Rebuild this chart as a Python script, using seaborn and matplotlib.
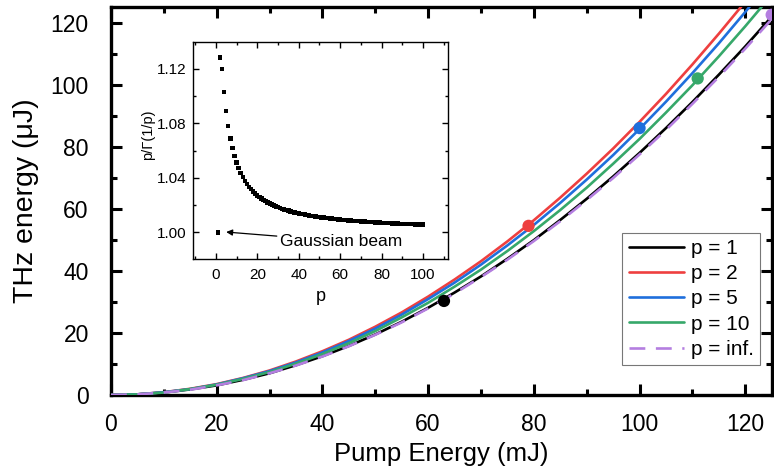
import numpy as np
import pandas as pd
import matplotlib
matplotlib.use("Agg")
import matplotlib.pyplot as plt
from matplotlib.ticker import MultipleLocator
import seaborn as sns

# ---- data ----
pump = [0, 5, 10, 15, 20, 25, 30, 35, 40, 45, 50, 55, 60, 65, 70, 75, 80, 85, 90, 95, 100, 105, 110, 115, 120, 125]
thz_p1 = [0, 0.2, 0.8, 1.8, 3.1, 4.9, 7.0, 9.6, 12.5, 15.8, 19.5, 23.6, 28.1, 33.0, 38.2, 43.9, 49.9, 56.4, 63.2, 70.4, 78.0, 86.0, 94.4, 103.2, 112.3, 121.9]
thz_p2 = [0, 0.2, 0.9, 2.0, 3.5, 5.5, 7.9, 10.8, 14.1, 17.8, 22.0, 26.6, 31.7, 37.2, 43.1, 49.5, 56.3, 63.6, 71.3, 79.4, 88.0, 97.0, 106.5, 116.4, 126.7, 137.5]
thz_p5 = [0, 0.2, 0.9, 1.9, 3.4, 5.4, 7.7, 10.5, 13.7, 17.4, 21.4, 25.9, 30.9, 36.2, 42.0, 48.2, 54.8, 61.9, 69.4, 77.3, 85.7, 94.5, 103.7, 113.3, 123.4, 133.9]
thz_p10 = [0, 0.2, 0.8, 1.9, 3.3, 5.2, 7.4, 10.1, 13.2, 16.7, 20.6, 25.0, 29.7, 34.9, 40.4, 46.4, 52.8, 59.6, 66.8, 74.5, 82.5, 91.0, 99.8, 109.1, 118.8, 128.9]
thz_pinf = [0, 0.2, 0.8, 1.7, 3.1, 4.8, 7.0, 9.5, 12.4, 15.7, 19.4, 23.4, 27.9, 32.7, 38.0, 43.6, 49.6, 56.0, 62.8, 69.9, 77.5, 85.4, 93.8, 102.5, 111.6, 121.1]
labels = ["p = 1", "p = 2", "p = 5", "p = 10", "p = inf."]
colors = ["#000000", "#EE3F3F", "#1F6FDC", "#36A86A", "#B47EE0"]
mark_x = [63, 79, 100, 111, 125]
mark_y = [30.3, 54.5, 86.0, 102.0, 122.5]

inset_p = list(range(1, 101))
inset_val = [1.0000, 1.1284, 1.1198, 1.1033, 1.0891, 1.0780, 1.0691, 1.0619, 1.0560, 1.0512,
             1.0471, 1.0435, 1.0405, 1.0379, 1.0356, 1.0335, 1.0317, 1.0300, 1.0286, 1.0272,
             1.0260, 1.0249, 1.0239, 1.0229, 1.0220, 1.0212, 1.0205, 1.0198, 1.0191, 1.0185,
             1.0179, 1.0174, 1.0169, 1.0164, 1.0160, 1.0155, 1.0151, 1.0147, 1.0144, 1.0140,
             1.0137, 1.0134, 1.0131, 1.0128, 1.0125, 1.0122, 1.0120, 1.0117, 1.0115, 1.0113,
             1.0111, 1.0109, 1.0107, 1.0105, 1.0103, 1.0101, 1.0099, 1.0098, 1.0096, 1.0094,
             1.0093, 1.0091, 1.0090, 1.0089, 1.0087, 1.0086, 1.0085, 1.0083, 1.0082, 1.0081,
             1.0080, 1.0079, 1.0078, 1.0077, 1.0076, 1.0075, 1.0074, 1.0073, 1.0072, 1.0071,
             1.0070, 1.0069, 1.0069, 1.0068, 1.0067, 1.0066, 1.0066, 1.0065, 1.0064, 1.0063,
             1.0063, 1.0062, 1.0061, 1.0061, 1.0060, 1.0059, 1.0059, 1.0058, 1.0058, 1.0057]

# ---- style ----
sns.set_style("ticks")
plt.rcParams["font.family"] = ["Liberation Sans", "DejaVu Sans"]
plt.rcParams["axes.edgecolor"] = "black"
plt.rcParams["xtick.color"] = "black"
plt.rcParams["ytick.color"] = "black"
plt.rcParams["text.color"] = "black"
plt.rcParams["axes.labelcolor"] = "black"

fig = plt.figure(figsize=(7.74, 4.70), dpi=100)
ax = fig.add_axes([0.1434, 0.1596, 0.8536, 0.8254])

series = [thz_p1, thz_p2, thz_p5, thz_p10, thz_pinf]
for i, (vals, lab, col) in enumerate(zip(series, labels, colors)):
    df = pd.DataFrame({"pump": pump, "thz": vals})
    sns.lineplot(data=df, x="pump", y="thz", ax=ax, color=col, lw=1.9,
                 label=lab, zorder=3 + i)
    if i == 4:
        ax.lines[-1].set_dashes((6, 4))

mdf = pd.DataFrame({"x": mark_x, "y": mark_y, "s": labels})
sns.scatterplot(data=mdf, x="x", y="y", hue="s", palette=colors, s=78,
                edgecolor="none", ax=ax, legend=False, zorder=10)

ax.set_xlim(0, 125)
ax.set_ylim(0, 125)
ax.xaxis.set_major_locator(MultipleLocator(20))
ax.xaxis.set_minor_locator(MultipleLocator(10))
ax.yaxis.set_major_locator(MultipleLocator(20))
ax.yaxis.set_minor_locator(MultipleLocator(10))
ax.tick_params(which="both", direction="in", top=True, right=True, width=2.2)
ax.tick_params(which="major", length=8, labelsize=16.5, pad=13)
ax.tick_params(axis="y", which="major", pad=16)
ax.tick_params(which="minor", length=4)
for s in ax.spines.values():
    s.set_linewidth(2.4)
ax.set_xlabel("Pump Energy (mJ)", fontsize=18.5, labelpad=4)
ax.set_ylabel("THz energy (μJ)", fontsize=20.5, labelpad=8)

leg = ax.legend(loc="lower right", bbox_to_anchor=(0.983, 0.077), fontsize=15,
                frameon=True, fancybox=False, handlelength=2.65, labelspacing=0.3,
                borderpad=0.3, handletextpad=0.35, borderaxespad=0)
leg.get_frame().set_edgecolor("#555555")
leg.get_frame().set_linewidth(0.8)

# ---- inset ----
ins = fig.add_axes([193 / 774, 1 - 259 / 470, (448 - 193) / 774, (259 - 42) / 470])
idf = pd.DataFrame({"p": inset_p, "v": inset_val})
sns.scatterplot(data=idf, x="p", y="v", marker="s", s=10, color="black",
                edgecolor="none", ax=ins, legend=False)
ins.set_xlim(-11, 112)
ins.set_ylim(0.9805, 1.1398)
ins.xaxis.set_major_locator(MultipleLocator(20))
ins.xaxis.set_minor_locator(MultipleLocator(10))
ins.yaxis.set_minor_locator(MultipleLocator(0.02))
ins.set_yticks([1.00, 1.04, 1.08, 1.12])
ins.set_yticklabels(["1.00", "1.04", "1.08", "1.12"])
ins.tick_params(which="both", direction="in", top=True, right=True, width=1.0)
ins.tick_params(which="major", length=4, labelsize=11, pad=5)
ins.tick_params(axis="x", which="major", pad=6.5)
ins.tick_params(which="minor", length=2.5)
for s in ins.spines.values():
    s.set_linewidth(1.0)
ins.set_xlabel("p", fontsize=13, labelpad=4)
ins.set_ylabel("p/Γ(1/p)", fontsize=10.5)
ins.yaxis.set_label_coords(-0.15, 0.571)
ins.annotate("Gaussian beam", xy=(5, 1.0003), xytext=(31, 0.9935),
             fontsize=12.5, va="center", ha="left",
             arrowprops=dict(arrowstyle="-|>", color="black", lw=0.9,
                             mutation_scale=9, shrinkA=0, shrinkB=0))

fig.savefig("out.png", dpi=100)
